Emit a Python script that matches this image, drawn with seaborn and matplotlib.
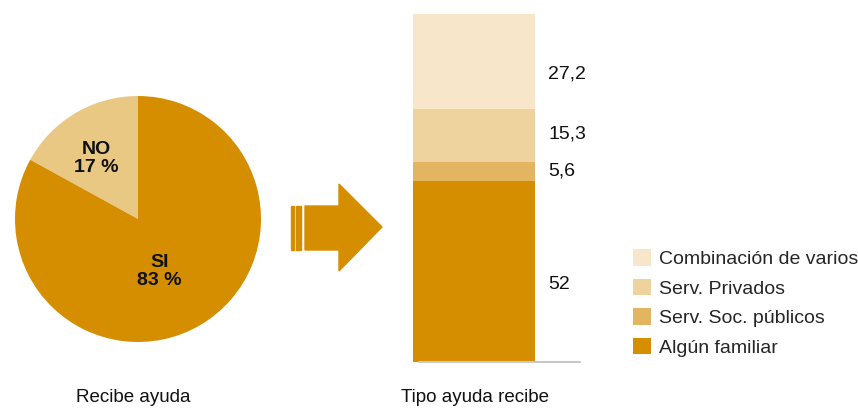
import matplotlib
matplotlib.use("Agg")
import matplotlib.pyplot as plt
import seaborn as sns
import numpy as np
from matplotlib.patches import Patch, Polygon, Rectangle

sns.set_theme(style="white")
plt.rcParams['font.family'] = ['Liberation Sans', 'DejaVu Sans']

# ---- data ----
pie_labels = ["NO", "SI"]
pie_values = [17, 83]
pie_colors = ["#E9C884", "#D48E00"]

bar_categories = ["Algún familiar", "Serv. Soc. públicos", "Serv. Privados", "Combinación de varios"]
bar_values = [52, 5.6, 15.3, 27.2]
bar_labels = ["52", "5,6", "15,3", "27,2"]
bar_colors = ["#D48E00", "#E4B560", "#EFD39F", "#F7E6CA"]

W, H = 858, 409
fig = plt.figure(figsize=(W / 100, H / 100), dpi=100)
fig.patch.set_facecolor("white")

def px_axes(x0, y0, x1, y1):
    return fig.add_axes([x0 / W, 1 - y1 / H, (x1 - x0) / W, (y1 - y0) / H])

# ---- pie ----
cx, cy, r = 138, 219, 123
axp = px_axes(cx - r, cy - r, cx + r, cy + r)
wedges, _ = axp.pie(pie_values, colors=pie_colors, startangle=90, counterclock=True,
                    wedgeprops=dict(linewidth=0))
dists = [0.6, 0.46]
offs = [4, -8]
for w, lab, val, d, o in zip(wedges, pie_labels, pie_values, dists, offs):
    ang = np.deg2rad((w.theta1 + w.theta2) / 2 + o)
    axp.text(d * np.cos(ang), d * np.sin(ang), f"{lab}\n{val} %", ha="center", va="center",
             fontsize=14, fontweight="bold", color="#111111", linespacing=1.08)
axp.set_xlim(-1, 1)
axp.set_ylim(-1, 1)
axp.set_axis_off()
fig.text(133 / W, 1 - 397 / H, "Recibe ayuda", ha="center", va="center", fontsize=13.5, color="#111111")

# ---- arrow (decoration) ----
def fpts(pts):
    return [(x / W, 1 - y / H) for x, y in pts]

col = "#D48E00"
fig.patches.append(Rectangle((291 / W, 1 - 250 / H), 2.5 / W, 44 / H, transform=fig.transFigure, color=col))
fig.patches.append(Rectangle((296 / W, 1 - 250 / H), 5 / W, 44 / H, transform=fig.transFigure, color=col))
fig.patches.append(Polygon(fpts([(305, 206), (339, 206), (339, 184), (382, 227), (339, 271),
                                 (339, 250), (305, 250)]), closed=True,
                           transform=fig.transFigure, color=col))

# ---- stacked bar ----
axb = px_axes(413, 14, 580, 362)
cum = np.cumsum(bar_values)
total = cum[-1]
for i in range(len(bar_values) - 1, -1, -1):
    sns.barplot(x=["Tipo"], y=[cum[i]], color=bar_colors[i], width=0.8, ax=axb,
                saturation=1, linewidth=0)
bar_w = 0.8
x_right = -0.4 + bar_w * (580 - 413) / (535 - 413)
axb.set_xlim(-0.4, x_right)
axb.set_ylim(0, total)
axb.set_axis_off()
axb.axhline(0, xmin=(419 - 413) / (580 - 413), xmax=1, color="#C8C8C8", lw=1.5, clip_on=False)
lab_x = -0.4 + bar_w * (548 - 413) / (535 - 413)
starts = np.concatenate([[0], cum[:-1]])
label_frac = [0.43, 0.5, 0.52, 0.37]
for s, v, lab, f in zip(starts, bar_values, bar_labels, label_frac):
    axb.text(lab_x, s + v * f, lab, ha="left", va="center", fontsize=14, color="#111111",
             clip_on=False)
fig.text(475 / W, 1 - 397 / H, "Tipo ayuda recibe", ha="center", va="center", fontsize=13.5, color="#111111")

# ---- legend ----
handles = [Patch(facecolor=c, edgecolor="none", label=l) for c, l in zip(bar_colors, bar_categories)][::-1]
fig.legend(handles=handles, loc="upper left", bbox_to_anchor=(633 / W, 1 - 249 / H),
           frameon=False, fontsize=14, borderpad=0, borderaxespad=0,
           handlelength=0.93, handleheight=0.93, handletextpad=0.42, labelspacing=0.55)

fig.savefig("out.png", dpi=100, facecolor="white")
